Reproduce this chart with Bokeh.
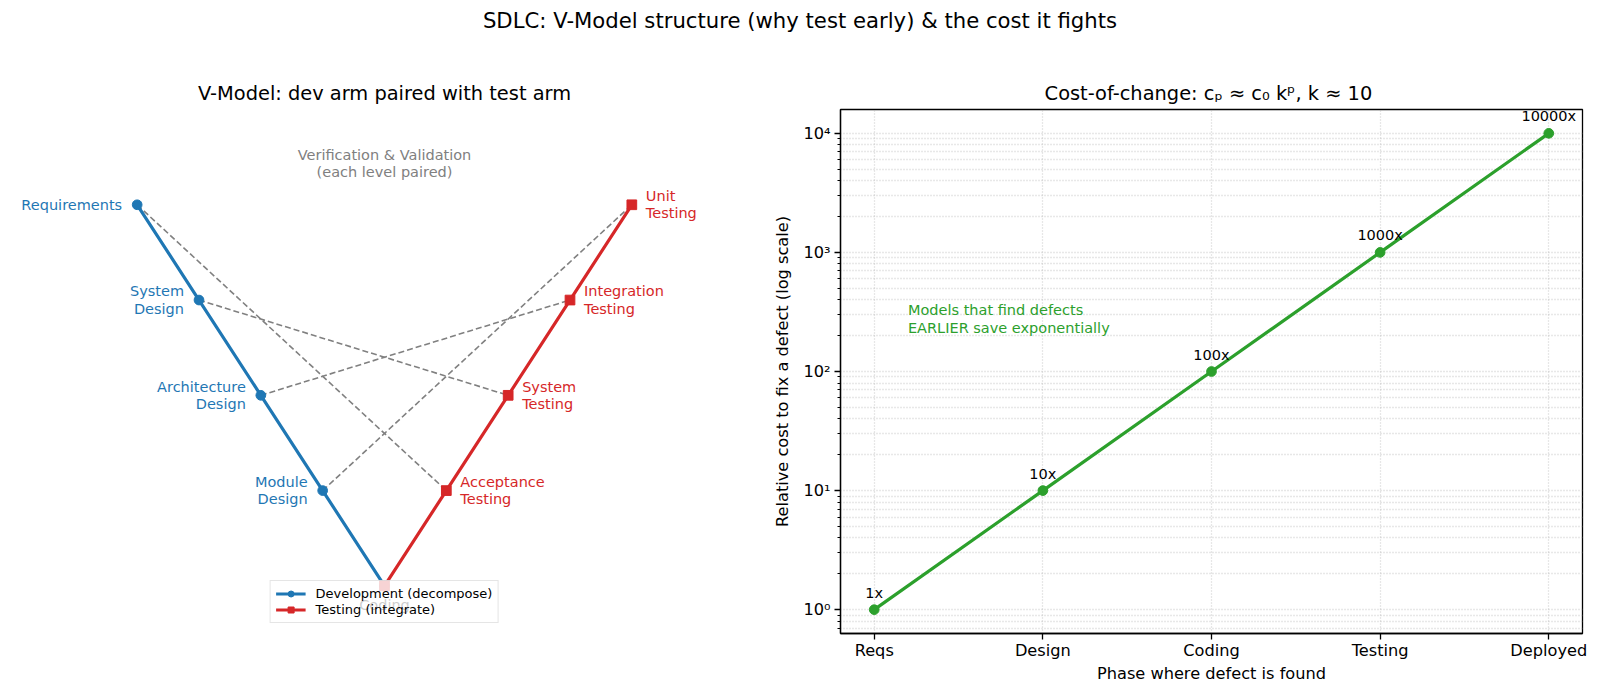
from bokeh.plotting import figure
from bokeh.models import (Range1d, FixedTicker, Legend, LegendItem, Div, Title)
from bokeh.layouts import column, row
from bokeh.core.properties import value
from bokeh.embed import file_html
from bokeh.resources import INLINE

FONT = "DejaVu Sans"
BLUE = "#1f77b4"
RED = "#d62728"
GREEN = "#2ca02c"

# ---------------- data ----------------
dev_x = [0, 1, 2, 3, 4]
dev_y = [4, 3, 2, 1, 0]
dev_labels = ["Requirements", "System\nDesign", "Architecture\nDesign", "Module\nDesign"]
coding_label = "Coding"
test_x = [4, 5, 6, 7, 8]
test_y = [0, 1, 2, 3, 4]
test_labels = ["Acceptance\nTesting", "System\nTesting", "Integration\nTesting", "Unit\nTesting"]
vv_note = "Verification & Validation\n(each level paired)"
vv_x = [4]
vv_y = [4.43]

phases = ["Reqs", "Design", "Coding", "Testing", "Deployed"]
phase_x = [0, 1, 2, 3, 4]
cost = [1, 10, 100, 1000, 10000]
cost_labels = ["1x", "10x", "100x", "1000x", "10000x"]
note_text = "Models that find defects\nEARLIER save exponentially"
note_x = [0.2]
note_y = [200]

LBL = "14.5px"
TICK = "16.2px"
TITLE = "19.4px"

# ---------------- left: V-model ----------------
left = figure(width=770, height=643, x_range=Range1d(-2, 10), y_range=Range1d(-0.5, 5),
              output_backend="svg", toolbar_location=None,
              x_axis_location=None, y_axis_location=None,
              min_border_left=13, min_border_right=15, min_border_top=59, min_border_bottom=60)
left.title = Title(text="V-Model: dev arm paired with test arm", text_font=FONT,
                   text_font_size=TITLE, text_font_style="normal", align="center",
                   text_color="black")
left.grid.visible = False
left.outline_line_color = None

# pairing lines
left.segment(x0=dev_x[:4], y0=dev_y[:4], x1=test_x[1:], y1=test_y[1:],
             line_color="#808080", line_width=1.6, line_dash="6 3")

dev_line = left.line(dev_x, dev_y, line_color=BLUE, line_width=3.2)
dev_pts = left.scatter(dev_x, dev_y, marker="circle", size=9.7, fill_color=BLUE, line_color=BLUE)
test_line = left.line(test_x, test_y, line_color=RED, line_width=3.2)
test_pts = left.scatter(test_x, test_y, marker="square", size=9.7, fill_color=RED, line_color=RED)

left.text(x=dev_x[:4], y=dev_y[:4], text=dev_labels, text_align="right", text_baseline="middle",
          x_offset=-15, text_color=BLUE, text_font=value(FONT), text_font_size=LBL,
          text_line_height=1.08)
left.text(x=test_x[1:], y=test_y[1:], text=test_labels, text_align="left", text_baseline="middle",
          x_offset=14, text_color=RED, text_font=value(FONT), text_font_size=LBL,
          text_line_height=1.08)
left.text(x=dev_x[4:], y=dev_y[4:], text=[coding_label], text_align="center", text_baseline="top",
          y_offset=11, text_color="black", text_font=value(FONT), text_font_size=LBL)
left.text(x=vv_x, y=vv_y, text=[vv_note], text_align="center", text_baseline="middle",
          text_color="gray", text_font=value(FONT), text_font_size=LBL,
          text_line_height=1.08)

legend = Legend(items=[LegendItem(label="Development (decompose)", renderers=[dev_line, dev_pts]),
                       LegendItem(label="Testing (integrate)", renderers=[test_line, test_pts])],
                location="bottom_center", label_text_font=FONT, label_text_font_size="13px",
                label_text_color="black",
                border_line_color="#cccccc", background_fill_alpha=0.8, padding=5, spacing=1,
                glyph_height=15, label_height=15, glyph_width=30, label_standoff=10, margin=10)
left.add_layout(legend, "center")

# ---------------- right: cost of change ----------------
right = figure(width=830, height=643, x_range=Range1d(-0.2, 4.2),
               y_range=Range1d(10 ** -0.2, 10 ** 4.2), y_axis_type="log",
               output_backend="svg", toolbar_location=None,
               min_border_left=69, min_border_right=18, min_border_top=59, min_border_bottom=60)
right.title = Title(text="Cost-of-change: cₚ ≈ c₀ kᵖ,  k ≈ 10", text_font=FONT,
                    text_font_size=TITLE, text_font_style="normal", align="center",
                    text_color="black")
right.outline_line_color = "black"
right.outline_line_width = 1.3

right.xaxis.ticker = FixedTicker(ticks=phase_x)
right.xaxis.major_label_overrides = {i: s for i, s in zip(phase_x, phases)}
major_y = [1, 10, 100, 1000, 10000]
minor_y = [m * 10 ** e for e in range(-1, 5) for m in range(2, 10)]
right.yaxis.ticker = FixedTicker(ticks=major_y, minor_ticks=minor_y)
right.yaxis.major_label_overrides = {1: "10⁰", 10: "10¹", 100: "10²", 1000: "10³", 10000: "10⁴"}
right.xgrid.ticker = FixedTicker(ticks=phase_x)
right.ygrid.ticker = FixedTicker(ticks=major_y, minor_ticks=minor_y)
for ax in (right.xaxis, right.yaxis):
    ax.major_label_text_font = FONT
    ax.major_label_text_font_size = TICK
    ax.major_label_text_color = "black"
    ax.axis_label_text_font = FONT
    ax.axis_label_text_font_size = TICK
    ax.axis_label_text_font_style = "normal"
    ax.axis_label_text_color = "black"
    ax.major_tick_in = 0
    ax.major_tick_out = 6
    ax.minor_tick_in = 0
    ax.minor_tick_out = 3
    ax.axis_line_color = "black"
    ax.axis_line_width = 1.3
    ax.major_tick_line_width = 1.3
    ax.minor_tick_line_width = 1.0
right.xaxis.major_label_standoff = 1
right.yaxis.major_label_standoff = 4
right.xaxis.minor_tick_line_color = None
right.xaxis.axis_label = "Phase where defect is found"
right.yaxis.axis_label = "Relative cost to fix a defect (log scale)"
right.xaxis.axis_label_standoff = 1
right.yaxis.axis_label_standoff = 8

for g in (right.xgrid, right.ygrid):
    g.grid_line_color = "#b0b0b0"
    g.grid_line_dash = "1 2"
    g.grid_line_width = 1.3
    g.grid_line_alpha = 0.6
right.ygrid.minor_grid_line_color = "#b0b0b0"
right.ygrid.minor_grid_line_dash = "1 2"
right.ygrid.minor_grid_line_width = 1.3
right.ygrid.minor_grid_line_alpha = 0.6

right.line(phase_x, cost, line_color=GREEN, line_width=3.2)
right.scatter(phase_x, cost, marker="circle", size=9.7, fill_color=GREEN, line_color=GREEN)
right.text(x=phase_x, y=cost, text=cost_labels, text_align="center", text_baseline="bottom",
           y_offset=-9, text_color="black", text_font=value(FONT), text_font_size=LBL)
right.text(x=note_x, y=note_y, text=[note_text], text_align="left", text_baseline="bottom",
           text_color=GREEN, text_font=value(FONT), text_font_size=LBL, text_line_height=1.08)

title_div = Div(text="<div style='width:1600px;text-align:center;font-family:\"DejaVu Sans\";"
                     "font-size:21.2px;padding-top:6px;color:black'>"
                     "SDLC: V-Model structure (why test early) &amp; the cost it fights</div>",
                width=1600, height=50, margin=0)

layout = column(title_div, row(left, right))
open("out.html", "w", encoding="utf-8").write(file_html(layout, INLINE))
